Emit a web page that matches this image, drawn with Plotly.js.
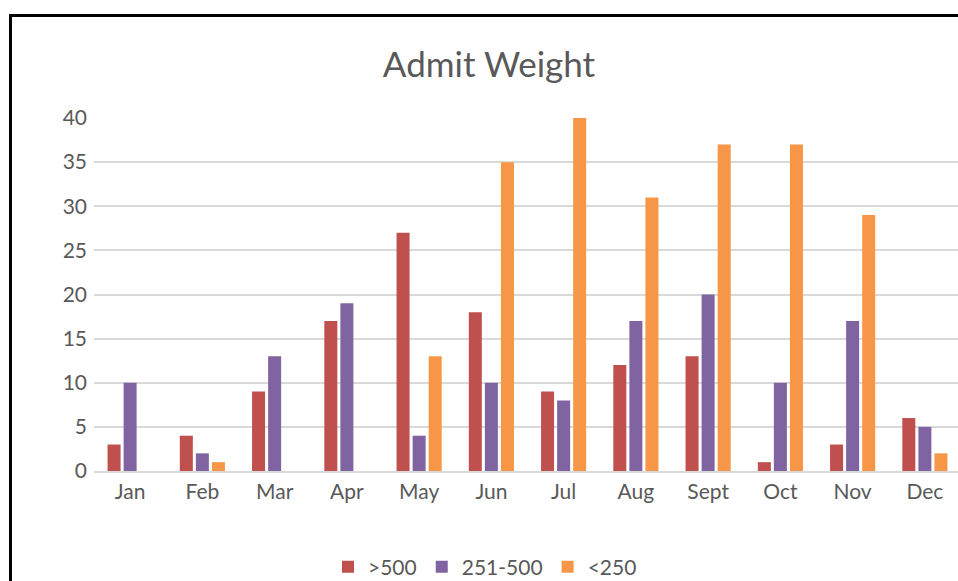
<!DOCTYPE html>
<html>
<head>
<meta charset="utf-8">
<script src="https://cdn.plot.ly/plotly-3.0.1.min.js"></script>
<style>
html,body{margin:0;padding:0;overflow:hidden;background:#fff;width:958px;height:581px;}
#chart{position:absolute;left:0;top:0;width:970px;height:581px;}
#frame{position:absolute;left:9px;top:14px;width:1000px;height:600px;border-left:3px solid #000;border-top:3px solid #000;pointer-events:none;}
</style>
</head>
<body>
<div id="chart"></div>
<div id="frame"></div>
<script>
const months = ["Jan","Feb","Mar","Apr","May","Jun","Jul","Aug","Sept","Oct","Nov","Dec"];
const seriesNames = [">500","251-500","<250"];
const over500 = [3,4,9,17,27,18,9,12,13,1,3,6];
const mid251to500 = [10,2,13,19,4,10,8,17,20,10,17,5];
const under250 = [null,1,null,null,13,35,40,31,37,37,29,2];
const colors = ["#C0504D","#8064A2","#F79646"];
const values = [over500, mid251to500, under250];

const fontFam = "Lato, 'Open Sans', sans-serif";
const data = values.map((v,i)=>({
  type:"bar", x:months, y:v, name:seriesNames[i],
  marker:{color:colors[i]}, hoverinfo:"x+y+name"
}));

const layout = {
  width:970, height:581,
  margin:{l:94, r:9, t:118, b:110},
  paper_bgcolor:"#fff", plot_bgcolor:"#fff",
  font:{family:fontFam, color:"#595959", size:21},
  title:{text:"Admit Weight", font:{family:fontFam, size:35, color:"#595959"},
         xref:"container", x:489/970, xanchor:"center", yref:"container", y:1-65/581, yanchor:"middle"},
  barmode:"group", bargap:0.333, bargroupgap:0.19,
  xaxis:{type:"category", showgrid:false, showline:true, linecolor:"#D9D9D9", linewidth:2,
         ticks:"", tickfont:{size:21, color:"#595959"}, ticklabelstandoff:1},
  yaxis:{range:[0,40], dtick:5, tick0:0, showgrid:true, gridcolor:"#D9D9D9", gridwidth:2,
         zeroline:false, showline:false, ticks:"", tickfont:{size:21, color:"#595959"}, ticklabelstandoff:6},
  showlegend:true,
  legend:{orientation:"h", xref:"container", x:485/970, xanchor:"center", yref:"container", y:1-567/581, yanchor:"middle",
          font:{size:21, color:"#595959"}, itemwidth:20, traceorder:"normal"}
};
Plotly.newPlot("chart", data, layout, {displayModeBar:false, staticPlot:true});
</script>
</body>
</html>
